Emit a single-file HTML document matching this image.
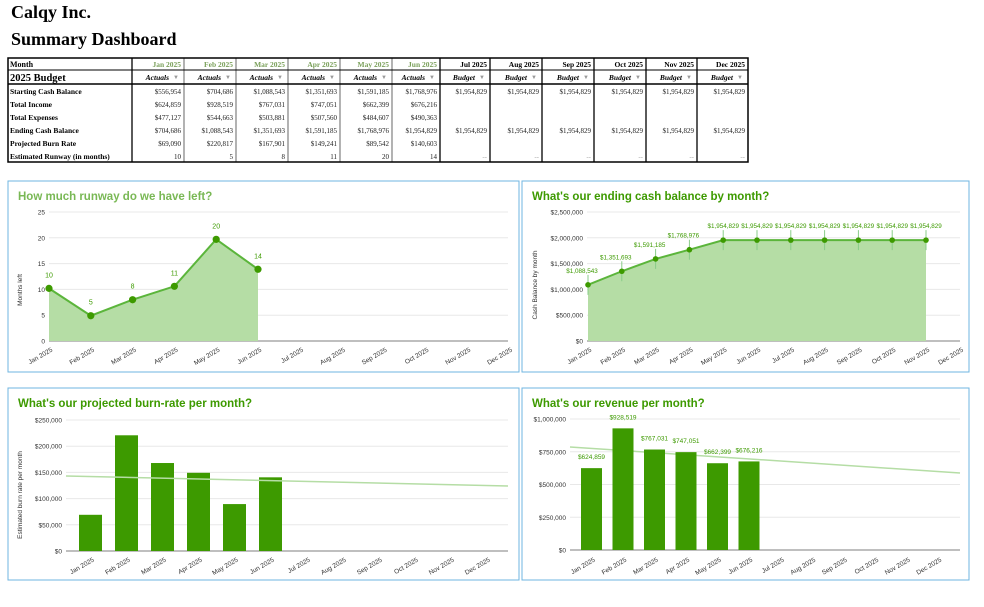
<!DOCTYPE html>
<html><head><meta charset="utf-8"><style>
body{margin:0;background:#fff;width:984px;height:607px;overflow:hidden;position:relative;font-family:"Liberation Serif",serif}
.t{position:absolute;left:11px;font-weight:bold;font-size:18px;color:#000}
svg{position:absolute;left:0;top:0}
</style></head><body>
<div class="t" style="top:2px">Calqy Inc.</div>
<div class="t" style="top:29px">Summary Dashboard</div>
<svg id="s" width="984" height="607" xmlns="http://www.w3.org/2000/svg"></svg>
<script>
let o='';
const M=['Jan','Feb','Mar','Apr','May','Jun','Jul','Aug','Sep','Oct','Nov','Dec'].map(m=>m+' 2025');
const cx=[8,132,184,236,288,340,392,440,490,542,594,646,697,748];
const ry=[58,70,84,97,110,123,136,149,162];
o+=`<rect x="8" y="58" width="740" height="104" fill="#fff" stroke="#000" stroke-width="1.5"/>`;
o+=`<line x1="8" y1="70" x2="748" y2="70" stroke="#000"/><line x1="8" y1="84" x2="748" y2="84" stroke="#000" stroke-width="1.5"/>`;
for(let i=1;i<13;i++){o+=`<line x1="${cx[i]}" y1="58" x2="${cx[i]}" y2="162" stroke="#000" stroke-width="${i>6?1.3:0.6}"/>`;}
o+=`<line x1="132" y1="58" x2="132" y2="162" stroke="#000" stroke-width="1.3"/>`;
o+=`<text x="10" y="67" font-size="8" font-weight="bold" font-family="Liberation Serif">Month</text>`;
o+=`<text x="10" y="81" font-size="10.5" font-weight="bold" font-family="Liberation Serif">2025 Budget</text>`;
for(let i=0;i<12;i++){const r=cx[i+2]-3;
o+=`<text x="${r}" y="67" font-size="7.5" font-weight="bold" text-anchor="end" fill="${i<6?'#7aa05a':'#000'}">${M[i]}</text>`;
o+=`<text x="${r-12}" y="80" font-size="7.5" font-weight="bold" font-style="italic" text-anchor="end">${i<6?'Actuals':'Budget'}</text><text x="${r-2}" y="79" font-size="6" fill="#999" text-anchor="end">▼</text>`;}
const lab=['Starting Cash Balance','Total Income','Total Expenses','Ending Cash Balance','Projected Burn Rate','Estimated Runway (in months)'];
const B='$1,954,829';
const d=[['$556,954','$704,686','$1,088,543','$1,351,693','$1,591,185','$1,768,976',B,B,B,B,B,B],
['$624,859','$928,519','$767,031','$747,051','$662,399','$676,216'],
['$477,127','$544,663','$503,881','$507,560','$484,607','$490,363'],
['$704,686','$1,088,543','$1,351,693','$1,591,185','$1,768,976',B,B,B,B,B,B,B],
['$69,090','$220,817','$167,901','$149,241','$89,542','$140,603'],
['10','5','8','11','20','14','--','--','--','--','--','--']];
for(let r=0;r<6;r++){const y=ry[r+2]+10;
o+=`<text x="10" y="${y}" font-size="7.5" font-weight="bold">${lab[r]}</text>`;
d[r].forEach((v,i)=>{o+=`<text x="${cx[i+2]-3}" y="${y}" font-size="7" text-anchor="end" fill="${v=='--'?'#aaa':'#222'}">${v}</text>`;});}
const G='#3d9a00',F='Liberation Sans';
function panel(x,y,w,h,title,col){o+=`<rect x="${x}" y="${y}" width="${w}" height="${h}" fill="#fff" stroke="#6fb6e0"/><text x="${x+10}" y="${y+19}" font-family="${F}" font-size="11.5" font-weight="bold" fill="${col}">${title}</text>`;}
function grid(l,r,b,t,ticks){const n=ticks.length-1;ticks.forEach((tk,i)=>{const y=b-(b-t)*i/n;o+=`<line x1="${l}" x2="${r}" y1="${y}" y2="${y}" stroke="${i?'#e8e8e8':'#aaa'}" stroke-width="${i?1:1.5}"/><text x="${l-4}" y="${y+2.5}" font-family="${F}" font-size="6.5" text-anchor="end" fill="#333">${tk}</text>`;});}
function xl(xs,y){xs.forEach((x,i)=>{o+=`<text transform="translate(${x+4},${y}) rotate(-30)" font-family="${F}" font-size="6.5" text-anchor="end" fill="#333">${M[i]}</text>`;});}
function ylab(x,y,t){o+=`<text transform="translate(${x},${y}) rotate(-90)" font-family="${F}" font-size="6.5" text-anchor="middle" fill="#333">${t}</text>`;}
panel(8,181,511,191,"How much runway do we have left?",'#79b855');
grid(49,508,341,212,['0','5','10','15','20','25']);
let xs=M.map((_,i)=>49+41.8*i);xl(xs,351);ylab(22,290,'Months left');
let v=[10.2,4.9,8,10.6,19.7,13.9],P=v.map((a,i)=>[xs[i],341-a*129/25]);
o+=`<polygon points="49,341 ${P.map(p=>p.join(',')).join(' ')} ${P[5][0]},341" fill="#b5dda5"/><polyline points="${P.map(p=>p.join(',')).join(' ')}" fill="none" stroke="#5bb53b" stroke-width="2"/>`;
['10','5','8','11','20','14'].forEach((t,i)=>{o+=`<circle cx="${P[i][0]}" cy="${P[i][1]}" r="3.6" fill="${G}"/><text x="${P[i][0]}" y="${P[i][1]-11}" font-family="${F}" font-size="7" text-anchor="middle" fill="${G}">${t}</text>`;});
panel(522,181,447,191,"What's our ending cash balance by month?",G);
grid(587,960,341,212,['$0','$500,000','$1,000,000','$1,500,000','$2,000,000','$2,500,000']);
xs=M.map((_,i)=>588+33.8*i);xl(xs,351);ylab(537,285,'Cash Balance by month');
v=[1088543,1351693,1591185,1768976,1954829,1954829,1954829,1954829,1954829,1954829,1954829];P=v.map((a,i)=>[xs[i],341-a*129/2500000]);
o+=`<polygon points="588,341 ${P.map(p=>p.join(',')).join(' ')} ${P[10][0]},341" fill="#b5dda5"/><polyline points="${P.map(p=>p.join(',')).join(' ')}" fill="none" stroke="#5bb53b" stroke-width="2"/>`;
const L=['$1,088,543','$1,351,693','$1,591,185','$1,768,976',B,B,B,B,B,B,B];
P.forEach((p,i)=>{o+=`<line x1="${p[0]}" x2="${p[0]}" y1="${p[1]-10}" y2="${p[1]+10}" stroke="#8c8"/><circle cx="${p[0]}" cy="${p[1]}" r="2.8" fill="${G}"/><text x="${p[0]+(i<4?-6:0)}" y="${p[1]-12}" font-family="${F}" font-size="6.3" text-anchor="middle" fill="${G}">${L[i]}</text>`;});
panel(8,388,511,192,"What's our projected burn-rate per month?",G);
grid(66,508,551,420,['$0','$50,000','$100,000','$150,000','$200,000','$250,000']);
xs=M.map((_,i)=>90.5+36*i);xl(xs,561);ylab(22,495,'Estimated burn rate per month');
[69090,220817,167901,149241,89542,140603].forEach((a,i)=>{const hh=a*131/250000;o+=`<rect x="${xs[i]-11.5}" y="${551-hh}" width="23" height="${hh}" fill="${G}"/>`;});
o+=`<line x1="66" y1="476" x2="508" y2="486" stroke="#b5dda5" stroke-width="1.5"/>`;
panel(522,388,447,192,"What's our revenue per month?",G);
grid(570,960,550,419,['$0','$250,000','$500,000','$750,000','$1,000,000']);
xs=M.map((_,i)=>591.5+31.5*i);xl(xs,561);
const R=[624859,928519,767031,747051,662399,676216],RL=['$624,859','$928,519','$767,031','$747,051','$662,399','$676,216'];
o+=`<line x1="570" y1="447" x2="960" y2="473" stroke="#b5dda5" stroke-width="1.5"/>`;
R.forEach((a,i)=>{const hh=a*131/1000000;o+=`<rect x="${xs[i]-10.5}" y="${550-hh}" width="21" height="${hh}" fill="${G}"/><text x="${xs[i]}" y="${550-hh-9}" font-family="${F}" font-size="6.5" text-anchor="middle" fill="${G}">${RL[i]}</text>`;});
document.getElementById('s').innerHTML=o;
</script>
</body></html>
